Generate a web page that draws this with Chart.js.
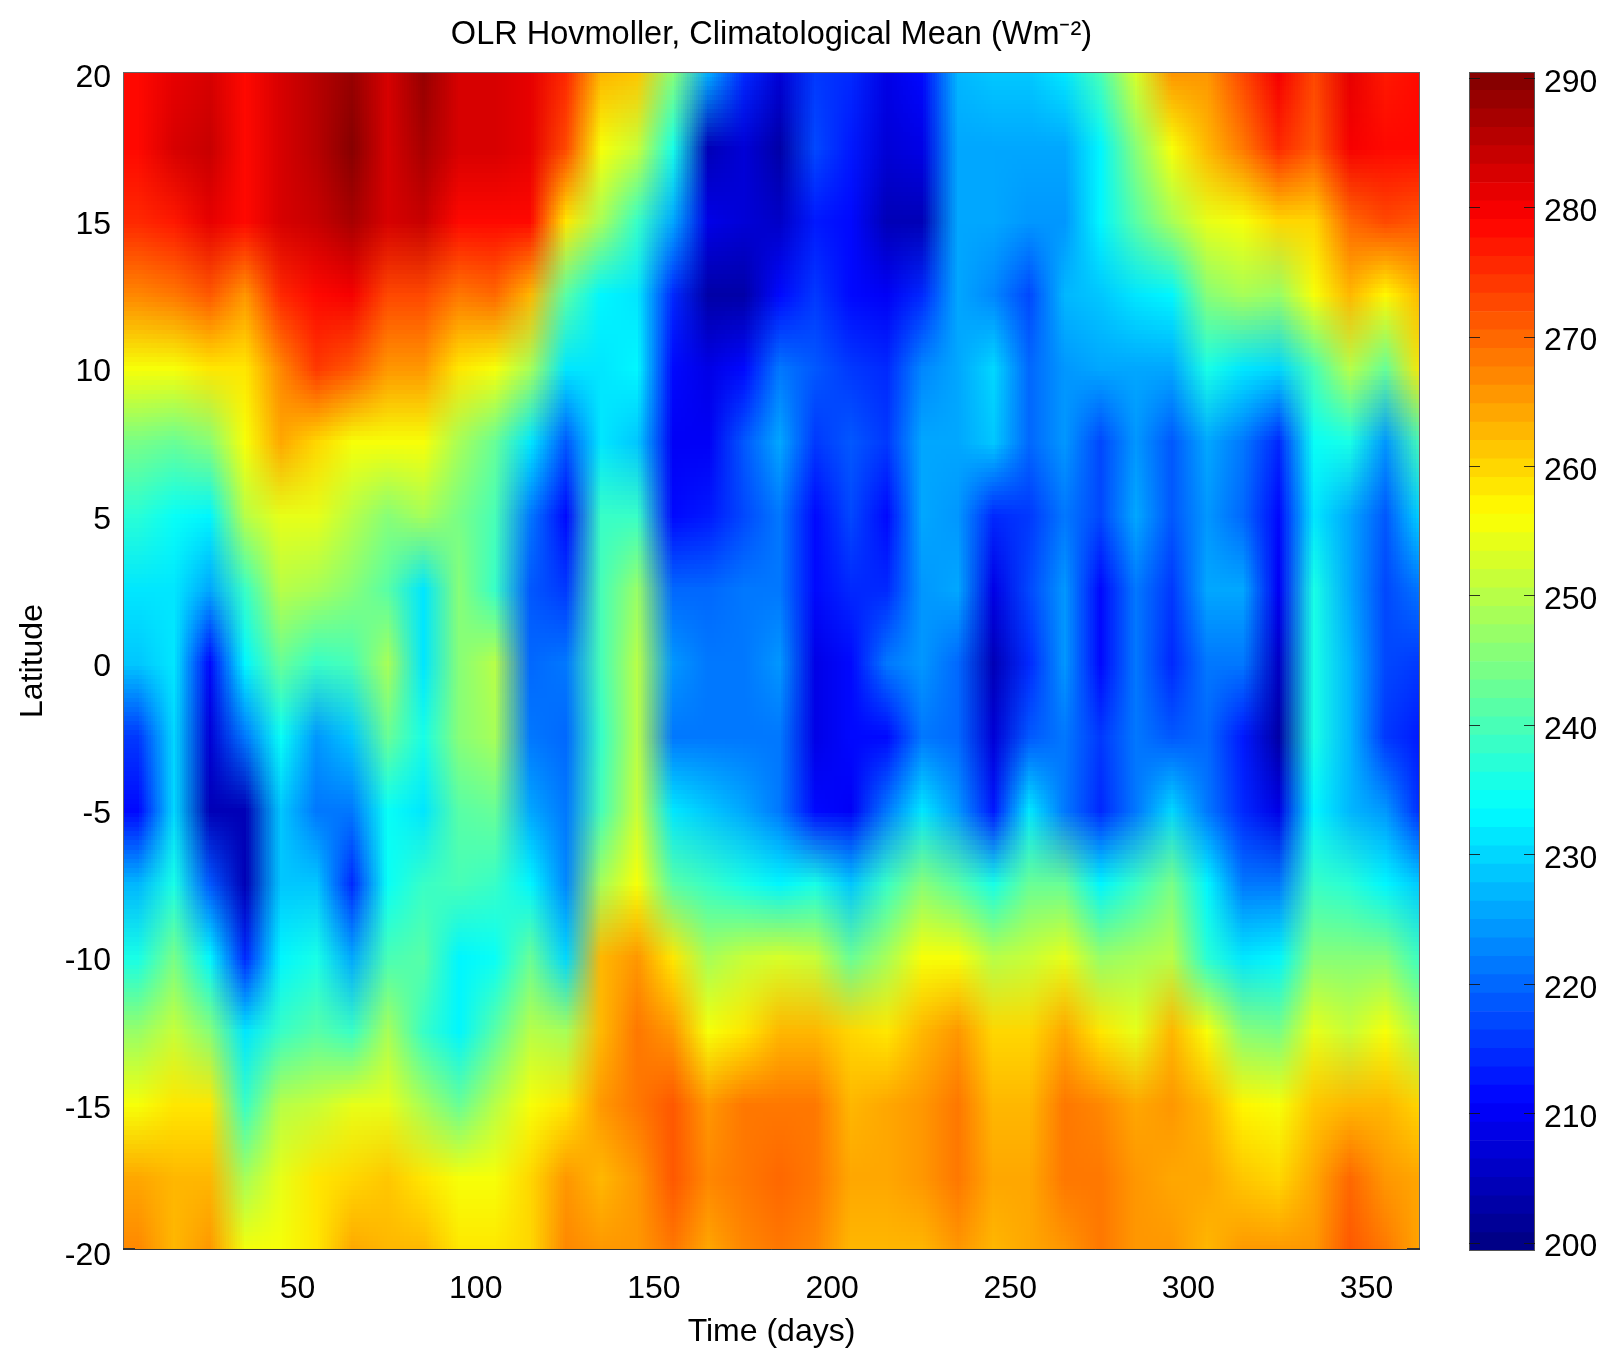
<!DOCTYPE html>
<html><head><meta charset="utf-8">
<style>html,body{margin:0;padding:0;background:#fff;width:1604px;height:1351px;overflow:hidden}
canvas{position:absolute;top:0}</style>
<script src="https://cdn.jsdelivr.net/npm/chart.js@4/dist/chart.umd.min.js"></script>
</head><body>
<canvas id="main" width="1440" height="1351" style="left:0"></canvas>
<canvas id="bar" width="164" height="1351" style="left:1440px"></canvas>
<script>
const days=[5,15,25,35,45,55,65,75,85,95,105,115,125,135,145,155,165,175,185,195,205,215,225,235,245,255,265,275,285,295,305,315,325,335,345,355,365];
const latitudes=[20,17.5,15,12.5,10,7.5,5,2.5,0,-2.5,-5,-7.5,-10,-12.5,-15,-17.5,-20];
const xTickValues=[50,100,150,200,250,300,350];
const yTickValues=[-20,-15,-10,-5,0,5,10,15,20];
const barTickValues=[200,210,220,230,240,250,260,270,280,290];
const olrN200=[279,281,283,279,283,286,289,283,288,283,282,281,276,262,261,246,225,215,207,216,214,209,212,227,228,229,231,240,253,265,266,272,280,273,281,277,278];
const olrN175=[279,282,284,279,283,286,290,283,287,283,282,281,273,256,252,236,205,207,203,217,213,207,209,225,225,226,225,233,245,256,262,268,276,271,280,279,278];
const olrN150=[276,277,281,278,282,284,287,282,284,279,279,279,258,248,238,226,208,207,206,213,212,205,205,226,226,224,224,233,242,248,254,256,260,260,270,272,271];
const olrN125=[267,268,271,266,275,279,280,272,273,268,270,262,242,233,232,215,203,203,212,216,211,210,214,225,223,217,227,228,232,233,245,248,247,255,262,257,262];
const olrN100=[256,256,258,258,267,274,271,266,265,258,255,248,232,231,233,212,208,212,221,218,216,215,223,226,230,220,224,225,225,225,235,232,230,240,250,243,258];
const olrN075=[244,243,246,255,264,260,255,255,255,248,243,232,218,231,228,210,210,218,226,216,218,216,226,225,228,220,224,217,224,218,226,222,215,234,235,224,240];
const olrN050=[237,234,233,250,254,254,250,245,248,244,240,222,212,238,238,211,213,217,222,212,217,212,225,224,214,216,222,217,225,218,224,220,211,232,226,218,230];
const olrN025=[232,232,226,238,250,248,245,241,232,245,238,218,216,240,247,220,220,222,222,211,215,214,224,226,209,217,224,212,222,216,225,226,210,236,226,217,222];
const olrEq=[228,232,212,233,243,238,240,248,232,246,250,220,222,240,250,224,222,222,224,208,212,222,224,220,205,214,224,212,222,214,222,222,206,236,227,217,216];
const olrS025=[216,230,207,222,234,224,228,243,235,245,248,222,220,238,250,222,222,222,222,208,212,212,222,220,207,219,222,216,222,219,220,213,203,236,227,216,213];
const olrS050=[212,230,205,204,229,222,222,234,232,242,243,226,222,240,252,232,228,226,222,212,210,222,232,224,213,232,222,214,222,230,222,214,209,233,227,224,214];
const olrS075=[227,236,218,205,228,228,214,234,238,240,238,233,223,248,256,241,238,236,233,236,228,238,246,241,235,243,243,233,238,244,233,222,222,238,237,233,228];
const olrS100=[236,244,233,214,233,236,225,240,242,233,234,243,230,262,266,258,248,251,253,252,243,248,256,256,250,252,254,247,248,250,237,232,233,245,245,246,238];
const olrS125=[247,251,246,232,238,242,238,248,238,233,242,250,248,262,268,266,256,258,263,263,260,258,262,266,260,260,264,258,254,262,256,245,244,254,252,255,248];
const olrS150=[256,259,258,238,250,252,254,254,248,243,250,255,258,265,268,271,265,268,269,268,262,264,266,269,263,263,269,267,264,266,263,257,255,261,262,262,260];
const olrS175=[264,262,262,248,254,258,260,261,258,255,256,260,266,263,266,271,267,268,270,269,264,264,265,268,264,264,268,269,266,264,264,261,260,264,270,266,264];
const olrS200=[267,263,266,256,256,259,264,262,262,259,259,260,267,265,266,268,264,267,268,267,263,262,263,266,262,264,266,268,266,266,262,266,266,265,271,268,264];
const rows=[olrN200,olrN175,olrN150,olrN125,olrN100,olrN075,olrN050,olrN025,olrEq,olrS025,olrS050,olrS075,olrS100,olrS125,olrS150,olrS175,olrS200];
const cMin=199.35,cMax=290.44,levels=64;
const FONT="'Liberation Sans', Arial, sans-serif";
const FS=32;
Chart.defaults.font.family=FONT;
Chart.defaults.color='#000';
function levelColor(i){
  const t=(i+0.5)/levels,c=v=>Math.round(255*Math.max(0,Math.min(1,v)));
  return `rgb(${c(1.5-Math.abs(4*t-3))},${c(1.5-Math.abs(4*t-2))},${c(1.5-Math.abs(4*t-1))})`;
}
function jet(v){
  const i=Math.max(0,Math.min(levels-1,Math.floor((v-cMin)/(cMax-cMin)*levels)));
  return levelColor(i);
}
const halfRow=1.25;
const cellSets=rows.map((vals,r)=>({
  label:'lat '+latitudes[r],
  data:vals.map((v,c)=>({x:days[c],y:[latitudes[r]-halfRow,latitudes[r]+halfRow]})),
  backgroundColor:vals.map(jet),
  borderWidth:0,barPercentage:1,categoryPercentage:1,grouped:false
}));
// Shades the drawn cells the way the source does: each cell centre becomes a node,
// and the colours between nodes are blended linearly.
const shadeInterp={id:'shadeInterp',
  afterDatasetsDraw(chart){
    const {ctx,chartArea:a,scales:{x,y}}=chart;
    const n=days.length,m=latitudes.length;
    const src=ctx.getImageData(0,0,chart.width,chart.height);
    const tiny=document.createElement('canvas');tiny.width=n;tiny.height=m;
    const tc=tiny.getContext('2d'),img=tc.createImageData(n,m);
    for(let r=0;r<m;r++)for(let c=0;c<n;c++){
      const px=Math.min(a.right-2,Math.max(a.left+1,Math.round(x.getPixelForValue(days[c]))));
      const py=Math.min(a.bottom-2,Math.max(a.top+1,Math.round(y.getPixelForValue(latitudes[r]))));
      const s=(py*chart.width+px)*4,d=(r*n+c)*4;
      for(let k=0;k<3;k++)img.data[d+k]=src.data[s+k];
      img.data[d+3]=255;
    }
    tc.putImageData(img,0,0);
    const dx=x.getPixelForValue(days[1])-x.getPixelForValue(days[0]);
    const dy=y.getPixelForValue(latitudes[1])-y.getPixelForValue(latitudes[0]);
    ctx.save();
    ctx.beginPath();ctx.rect(a.left,a.top,a.right-a.left,a.bottom-a.top);ctx.clip();
    ctx.imageSmoothingEnabled=true;ctx.imageSmoothingQuality='low';
    ctx.drawImage(tiny,x.getPixelForValue(days[0])-dx/2,y.getPixelForValue(latitudes[0])-dy/2,n*dx,m*dy);
    ctx.restore();
    ctx.save();
    ctx.strokeStyle='#666';ctx.lineWidth=1;
    ctx.strokeRect(a.left+.5,a.top+.5,a.right-a.left-1,a.bottom-a.top-1);
    ctx.strokeStyle='#333';
    ctx.beginPath();
    ctx.moveTo(a.left,a.bottom-.5);ctx.lineTo(a.right,a.bottom-.5);
    ctx.moveTo(a.left,a.bottom-1.5);ctx.lineTo(a.left+12,a.bottom-1.5);
    ctx.moveTo(a.right-13,a.bottom-1.5);ctx.lineTo(a.right,a.bottom-1.5);
    ctx.stroke();
    ctx.restore();
  }
};
new Chart(document.getElementById('main'),{
  type:'bar',
  data:{datasets:cellSets},
  plugins:[shadeInterp],
  options:{
    responsive:false,animation:false,events:[],
    layout:{padding:{right:20,top:0,bottom:0,left:0}},
    plugins:{legend:{display:false},tooltip:{enabled:false},
      title:{display:true,fullSize:false,text:'OLR Hovmoller, Climatological Mean (Wm⁻²)',
        font:{size:32.5,weight:'normal',family:FONT,lineHeight:1.2},color:'#000',
        padding:{top:16,bottom:72-16-39}}},
    scales:{
      x:{type:'linear',offset:false,min:1,max:365,
        grid:{display:false,offset:false},border:{display:false},
        afterBuildTicks:s=>{s.ticks=xTickValues.map(v=>({value:v}));},
        afterFit:s=>{s.height=1351-1250;},
        ticks:{font:{size:FS},color:'#000',padding:12,maxRotation:0,autoSkip:false},
        title:{display:true,text:'Time (days)',font:{size:FS},color:'#000',padding:{top:0,bottom:0}}},
      y:{type:'linear',min:-20,max:20,
        grid:{display:false},border:{display:false},
        afterBuildTicks:s=>{s.ticks=yTickValues.map(v=>({value:v}));},
        afterFit:s=>{s.width=123;},
        ticks:{font:{size:FS},color:'#000',padding:4,labelOffset:6,autoSkip:false},
        title:{display:true,text:'Latitude',font:{size:FS},color:'#000',padding:{top:14,bottom:0}}}
    }
  }
});
const levelIdx=Array.from({length:levels},(_,i)=>i);
const barSets=levelIdx.map(i=>{
  const w=(cMax-cMin)/levels;
  return {label:'level '+i,data:[[cMin+i*w,cMin+(i+1)*w]],backgroundColor:levelColor(i),borderWidth:0,
    barPercentage:1,categoryPercentage:1,grouped:false};
});
const barFrame={id:'barFrame',
  afterDatasetsDraw(chart){
    const {ctx,chartArea:a,scales:{y}}=chart;
    ctx.save();
    ctx.strokeStyle='#555';ctx.lineWidth=1;
    ctx.strokeRect(a.left+.5,a.top+.5,a.right-a.left-1,a.bottom-a.top-1);
    ctx.strokeStyle='rgba(20,20,20,.85)';
    ctx.beginPath();
    barTickValues.forEach(v=>{
      const p=Math.round(y.getPixelForValue(v))+.5;
      ctx.moveTo(a.left,p);ctx.lineTo(a.left+11,p);
      ctx.moveTo(a.right-11,p);ctx.lineTo(a.right,p);
    });
    ctx.stroke();
    ctx.restore();
  }
};
new Chart(document.getElementById('bar'),{
  type:'bar',
  data:{labels:['OLR'],datasets:barSets},
  plugins:[barFrame],
  options:{
    responsive:false,animation:false,events:[],
    layout:{padding:{left:29,top:72,bottom:100,right:0}},
    plugins:{legend:{display:false},tooltip:{enabled:false},title:{display:false}},
    scales:{
      x:{display:false},
      y:{position:'right',min:cMin,max:cMax,
        grid:{display:false},border:{display:false},
        afterBuildTicks:s=>{s.ticks=barTickValues.map(v=>({value:v}));},
        afterFit:s=>{s.width=69;},
        ticks:{font:{size:FS},color:'#000',padding:1,labelOffset:5,autoSkip:false}}
    }
  }
});
</script>
</body></html>
